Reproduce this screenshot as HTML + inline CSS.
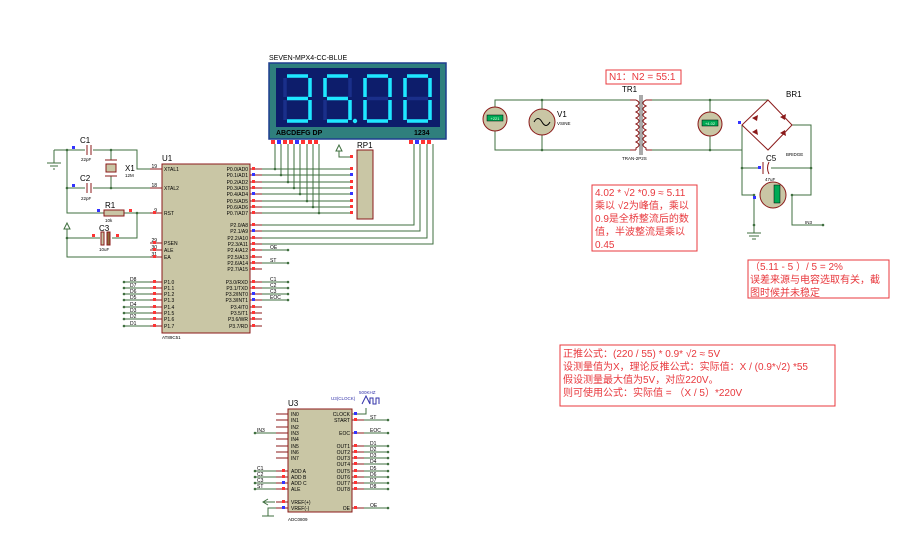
<!DOCTYPE html>
<html><head><meta charset="utf-8"><style>
body{margin:0;background:#fff;width:910px;height:534px;overflow:hidden}
svg{display:block}
text{font-family:"Liberation Sans","Noto Sans CJK SC",sans-serif}
.w{stroke:#3f6f3f;stroke-width:1;fill:none}
.p{stroke:#8b1a1a;stroke-width:1}
.s{font-size:5px;fill:#000}
.lb{font-size:8px;fill:#000}
.r{font-size:10px;fill:#e8383d}
.bx{fill:#fff;stroke:#e8383d;stroke-width:1}
.seg{stroke:#1ee8ff;stroke-width:3.5;fill:none;stroke-linecap:butt}
.off{stroke:#1a2f8a;stroke-width:3.5;fill:none}
</style></head><body>
<svg width="910" height="534" viewBox="0 0 910 534">
<!-- DISPLAY -->
<text x="269" y="60" font-size="7" fill="#000">SEVEN-MPX4-CC-BLUE</text>
<rect x="269" y="63" width="177" height="76" fill="#2f7f7d" stroke="#1f3f8f" stroke-width="1.5"/>
<rect x="276" y="68" width="164" height="59" fill="#0d1d6b"/>
<g class="off">
<path d="M287 76H308M285 78V97M310 78V97M287 98.5H308M285 100V120M310 100V120M287 121H308"/>
<path d="M327 76H348M325 78V97M350 78V97M327 98.5H348M325 100V120M350 100V120M327 121H348"/>
<path d="M367 76H388M365 78V97M390 78V97M367 98.5H388M365 100V120M390 100V120M367 121H388"/>
<path d="M407 76H428M405 78V97M430 78V97M407 98.5H428M405 100V120M430 100V120M407 121H428"/>
</g>
<g class="seg">
<path d="M287 76H308M310 78V97M287 98.5H308M310 100V120M287 121H308"/>
<path d="M327 76H348M325 78V97M327 98.5H348M350 100V120M327 121H348"/>
<path d="M367 76H388M365 78V97M390 78V97M365 100V120M390 100V120M367 121H388"/>
<path d="M407 76H428M405 78V97M430 78V97M405 100V120M430 100V120M407 121H428"/>
</g>
<circle cx="355" cy="121" r="2.2" fill="#1ee8ff"/>
<text x="276" y="135" font-size="7" font-weight="bold" fill="#000">ABCDEFG DP</text>
<text x="414" y="135" font-size="7" font-weight="bold" fill="#000">1234</text>
<g fill="#f33">
<rect x="271" y="140" width="4" height="4"/><rect x="277" y="140" width="4" height="4" fill="#33f"/><rect x="283" y="140" width="4" height="4"/><rect x="289" y="140" width="4" height="4"/><rect x="295" y="140" width="4" height="4" fill="#33f"/><rect x="301" y="140" width="4" height="4"/><rect x="308" y="140" width="4" height="4"/><rect x="314" y="140" width="4" height="4"/>
<rect x="409" y="140" width="4" height="4"/><rect x="415" y="140" width="4" height="4" fill="#33f"/><rect x="421" y="140" width="4" height="4"/><rect x="427" y="140" width="4" height="4"/>
</g>
<!-- vertical display wires -->
<g class="w">
<path d="M275 144V169M281 144V175M288 144V182M294 144V188M300 144V194M307 144V201M313 144V207M319 144V213"/>
<path d="M414 144V225H262M420 144V231H262M427 144V238H262M433 144V244H262"/>
<path d="M262 169H351M262 175H351M262 182H351M262 188H351M262 194H351M262 201H351M262 207H351M262 213H351"/>
<path d="M339 151V157H351"/>
<path d="M262 250H288M262 263H288M262 282H288M262 288H288M262 294H288M262 300H288"/>
</g>
<path d="M336 151L339 145L342 151Z" fill="none" stroke="#3f6f3f"/>
<g fill="#3f6f3f"><circle cx="275" cy="169" r="1.3"/><circle cx="281" cy="175" r="1.3"/><circle cx="288" cy="182" r="1.3"/><circle cx="294" cy="188" r="1.3"/><circle cx="300" cy="194" r="1.3"/><circle cx="307" cy="201" r="1.3"/><circle cx="313" cy="207" r="1.3"/><circle cx="319" cy="213" r="1.3"/>
<circle cx="288" cy="250" r="1.3"/><circle cx="288" cy="263" r="1.3"/><circle cx="288" cy="282" r="1.3"/><circle cx="288" cy="288" r="1.3"/><circle cx="288" cy="294" r="1.3"/><circle cx="288" cy="300" r="1.3"/></g>
<g class="s"><text x="270" y="249">OE</text><text x="270" y="262">ST</text><text x="270" y="281">C1</text><text x="270" y="287">C2</text><text x="270" y="293">C3</text><text x="270" y="299">EOC</text></g>
<!-- RP1 -->
<text x="357" y="148" class="lb">RP1</text>
<rect x="357" y="150" width="16" height="69" fill="#c9c6a5" stroke="#8b1a1a"/>
<g fill="#f33"><rect x="350" y="155" width="3" height="3"/><rect x="350" y="167" width="3" height="3"/><rect x="350" y="173" width="3" height="3" fill="#33f"/><rect x="350" y="180" width="3" height="3"/><rect x="350" y="186" width="3" height="3"/><rect x="350" y="192" width="3" height="3" fill="#33f"/><rect x="350" y="199" width="3" height="3"/><rect x="350" y="205" width="3" height="3"/><rect x="350" y="211" width="3" height="3"/></g>
<!-- U1 -->
<text x="162" y="161" class="lb">U1</text>
<rect x="162" y="164" width="88" height="169" fill="#c9c6a5" stroke="#8b1a1a"/>
<text x="162" y="339" font-size="4.5">AT89C51</text>
<g class="p">
<path d="M150 169H162M150 188H162M150 213H162M150 243H162M150 250H162M150 257H162"/>
<path d="M150 282H162M150 288H162M150 294H162M150 300H162M150 307H162M150 313H162M150 319H162M150 326H162"/>
<path d="M250 169H262M250 175H262M250 182H262M250 188H262M250 194H262M250 201H262M250 207H262M250 213H262"/>
<path d="M250 225H262M250 231H262M250 238H262M250 244H262M250 250H262M250 257H262M250 263H262M250 269H262"/>
<path d="M250 282H262M250 288H262M250 294H262M250 300H262M250 307H262M250 313H262M250 319H262M250 326H262"/>
</g>
<g class="s">
<text x="164" y="171">XTAL1</text><text x="164" y="190">XTAL2</text><text x="164" y="215">RST</text><text x="164" y="245">PSEN</text><text x="164" y="252">ALE</text><text x="164" y="259">EA</text>
<text x="164" y="284">P1.0</text><text x="164" y="290">P1.1</text><text x="164" y="296">P1.2</text><text x="164" y="302">P1.3</text><text x="164" y="309">P1.4</text><text x="164" y="315">P1.5</text><text x="164" y="321">P1.6</text><text x="164" y="328">P1.7</text>
<g text-anchor="end">
<text x="248" y="171">P0.0/AD0</text><text x="248" y="177">P0.1/AD1</text><text x="248" y="184">P0.2/AD2</text><text x="248" y="190">P0.3/AD3</text><text x="248" y="196">P0.4/AD4</text><text x="248" y="203">P0.5/AD5</text><text x="248" y="209">P0.6/AD6</text><text x="248" y="215">P0.7/AD7</text>
<text x="248" y="227">P2.0/A8</text><text x="248" y="233">P2.1/A9</text><text x="248" y="240">P2.2/A10</text><text x="248" y="246">P2.3/A11</text><text x="248" y="252">P2.4/A12</text><text x="248" y="259">P2.5/A13</text><text x="248" y="265">P2.6/A14</text><text x="248" y="271">P2.7/A15</text>
<text x="248" y="284">P3.0/RXD</text><text x="248" y="290">P3.1/TXD</text><text x="248" y="296">P3.2/INT0</text><text x="248" y="302">P3.3/INT1</text><text x="248" y="309">P3.4/T0</text><text x="248" y="315">P3.5/T1</text><text x="248" y="321">P3.6/WR</text><text x="248" y="328">P3.7/RD</text>
<text x="157" y="168">19</text><text x="157" y="187">18</text><text x="157" y="212">9</text><text x="157" y="242">29</text><text x="157" y="249">30</text><text x="157" y="256">31</text>
</g></g>
<g fill="#f33">
<rect x="252" y="167" width="3" height="3"/><rect x="252" y="173" width="3" height="3" fill="#33f"/><rect x="252" y="180" width="3" height="3"/><rect x="252" y="186" width="3" height="3"/><rect x="252" y="192" width="3" height="3" fill="#33f"/><rect x="252" y="199" width="3" height="3"/><rect x="252" y="205" width="3" height="3"/><rect x="252" y="211" width="3" height="3"/>
<rect x="252" y="223" width="3" height="3"/><rect x="252" y="229" width="3" height="3" fill="#33f"/><rect x="252" y="236" width="3" height="3"/><rect x="252" y="242" width="3" height="3"/><rect x="252" y="248" width="3" height="3"/><rect x="252" y="255" width="3" height="3"/><rect x="252" y="261" width="3" height="3"/><rect x="252" y="267" width="3" height="3"/>
<rect x="252" y="280" width="3" height="3"/><rect x="252" y="286" width="3" height="3"/><rect x="252" y="292" width="3" height="3" fill="#33f"/><rect x="252" y="298" width="3" height="3" fill="#33f"/><rect x="252" y="305" width="3" height="3"/><rect x="252" y="311" width="3" height="3"/><rect x="252" y="317" width="3" height="3"/><rect x="252" y="324" width="3" height="3"/>
<rect x="153" y="211" width="3" height="3"/><rect x="153" y="241" width="3" height="3"/><rect x="153" y="248" width="3" height="3"/><rect x="153" y="255" width="3" height="3"/>
<rect x="153" y="280" width="3" height="3"/><rect x="153" y="286" width="3" height="3"/><rect x="153" y="292" width="3" height="3"/><rect x="153" y="298" width="3" height="3"/><rect x="153" y="305" width="3" height="3"/><rect x="153" y="311" width="3" height="3"/><rect x="153" y="317" width="3" height="3"/><rect x="153" y="324" width="3" height="3"/>
</g>
<!-- P1 data lines -->
<g class="w"><path d="M124 282H150M124 288H150M124 294H150M124 300H150M124 307H150M124 313H150M124 319H150M124 326H150"/></g>
<g fill="#3f6f3f"><circle cx="124" cy="282" r="1.3"/><circle cx="124" cy="288" r="1.3"/><circle cx="124" cy="294" r="1.3"/><circle cx="124" cy="300" r="1.3"/><circle cx="124" cy="307" r="1.3"/><circle cx="124" cy="313" r="1.3"/><circle cx="124" cy="319" r="1.3"/><circle cx="124" cy="326" r="1.3"/></g>
<g class="s"><text x="130" y="281">D8</text><text x="130" y="287">D7</text><text x="130" y="293">D6</text><text x="130" y="299">D5</text><text x="130" y="306">D4</text><text x="130" y="312">D3</text><text x="130" y="318">D2</text><text x="130" y="325">D1</text></g>
<!-- oscillator/reset -->
<g class="w">
<path d="M54 150H85M93 150H137V169H150M67 150V213H104M67 188H85M93 188H150M111 150V160M111 176V188"/>
<path d="M54 150V163M124 213H150M137 213V238H112M67 229V257H150M67 238H100"/>
</g>
<path d="M47 163H61M50 166H58M53 169H55" stroke="#3f6f3f"/>
<path d="M64 229L67 223L70 229Z" fill="none" stroke="#3f6f3f"/>
<g class="p" fill="none"><path d="M87 145V155M91 145V155M87 183V193M91 183V193M105 160H117M105 176H117"/></g>
<rect x="106" y="164" width="10" height="8" fill="#c9c6a5" stroke="#8b1a1a"/>
<rect x="104" y="210" width="20" height="6" fill="#c9c6a5" stroke="#8b1a1a"/>
<rect x="101" y="232" width="3" height="13" fill="#c9c6a5" stroke="#8b1a1a"/><rect x="107" y="232" width="3" height="13" fill="#8b6a3a" stroke="#8b1a1a"/>
<g fill="#3f6f3f"><circle cx="67" cy="150" r="1.3"/><circle cx="111" cy="150" r="1.3"/><circle cx="67" cy="188" r="1.3"/><circle cx="111" cy="188" r="1.3"/><circle cx="137" cy="213" r="1.3"/><circle cx="67" cy="238" r="1.3"/></g>
<rect x="72" y="146" width="3" height="3" fill="#33f"/><rect x="72" y="184" width="3" height="3" fill="#33f"/><rect x="97" y="209" width="3" height="3" fill="#33f"/><rect x="129" y="209" width="3" height="3" fill="#f33"/><rect x="92" y="234" width="3" height="3" fill="#f33"/><rect x="116" y="234" width="3" height="3" fill="#f33"/>
<g class="lb"><text x="80" y="143">C1</text><text x="80" y="181">C2</text><text x="105" y="208">R1</text><text x="99" y="231">C3</text><text x="125" y="171">X1</text></g>
<g style="font-size:4.5px"><text x="81" y="161">22pF</text><text x="81" y="200">22pF</text><text x="105" y="222">10k</text><text x="99" y="251">10uF</text><text x="125" y="177">12M</text></g>
<!-- Transformer section -->
<g class="w">
<path d="M495 107V100H630M495 131V150H630M542 100V109M542 135V150"/>
<path d="M652 100H768M652 150H742V125M710 100V112M710 136V150"/>
<path d="M792 125H811V195H792M742 125V195H754M742 168H761M771 168H811M754 195V233M792 195V225H823"/>
</g>
<g fill="#3f6f3f"><circle cx="542" cy="100" r="1.3"/><circle cx="542" cy="150" r="1.3"/><circle cx="710" cy="100" r="1.3"/><circle cx="710" cy="150" r="1.3"/><circle cx="742" cy="168" r="1.3"/><circle cx="811" cy="168" r="1.3"/><circle cx="754" cy="195" r="1.3"/><circle cx="792" cy="195" r="1.3"/><circle cx="754" cy="225" r="1.3"/><circle cx="823" cy="225" r="1.3"/></g>
<path d="M747 233H761M749 236H759M752 239H756" stroke="#3f6f3f"/>
<circle cx="495" cy="119" r="12" fill="#c9c6a5" stroke="#8b1a1a"/><rect x="487" y="115" width="16" height="6" fill="#0a5" stroke="#000" stroke-width=".5"/><text x="495" y="120" font-size="4" fill="#dfd" text-anchor="middle">+221</text>
<circle cx="542" cy="122" r="13" fill="#c9c6a5" stroke="#8b1a1a"/><path d="M534 122q4 -7 8 0t8 0" fill="none" stroke="#000"/>
<text x="557" y="117" class="lb">V1</text><text x="557" y="125" style="font-size:4.5px">VSINE</text>
<circle cx="710" cy="124" r="12" fill="#c9c6a5" stroke="#8b1a1a"/><rect x="702" y="120" width="16" height="6" fill="#0a5" stroke="#000" stroke-width=".5"/><text x="710" y="125" font-size="4" fill="#dfd" text-anchor="middle">+4.02</text>
<g fill="none" stroke="#8b1a1a"><path d="M630 100h6M630 150h6M646 100h6M646 150h6"/>
<path d="M636 100q6 3 0 6q6 3 0 6q6 3 0 6q6 3 0 6q6 3 0 6q6 3 0 6q6 3 0 6q6 3 0 6v2"/>
<path d="M646 100q-6 3 0 6q-6 3 0 6q-6 3 0 6q-6 3 0 6q-6 3 0 6q-6 3 0 6q-6 3 0 6q-6 3 0 6v2"/>
<path d="M640 95V155M642 95V155" stroke="#555"/></g>
<text x="622" y="92" class="lb">TR1</text><text x="622" y="160" style="font-size:4.5px">TRAN-2P2S</text>
<path d="M768 100L792 125L768 150L742 125Z" fill="none" stroke="#8b1a1a"/>
<g fill="#8b1a1a"><path d="M752 118l6 -3l-1 6z"/><path d="M780 117l6 -3l-1 6z"/><path d="M752 132l6 3l-1 -6z"/><path d="M780 133l6 3l-1 -6z"/></g>
<text x="786" y="97" class="lb">BR1</text><text x="786" y="156" style="font-size:4.5px">BRIDGE</text>
<rect x="738" y="121" width="3" height="3" fill="#33f"/><rect x="758" y="166" width="3" height="3" fill="#33f"/><rect x="753" y="196" width="3" height="3" fill="#33f"/>
<path d="M763 162V174" stroke="#8b1a1a"/><path d="M769 162q-3 6 0 12" fill="none" stroke="#8b1a1a"/>
<text x="766" y="161" class="lb">C5</text><text x="765" y="181" style="font-size:4.5px">47uF</text>
<circle cx="773" cy="195" r="13" fill="#c9c6a5" stroke="#8b1a1a"/><rect x="774" y="185" width="6" height="18" fill="#0a5" stroke="#000" stroke-width=".5"/>
<text x="805" y="224" style="font-size:4.5px">IN3</text>
<!-- annotations -->
<rect x="606" y="70" width="75" height="14" class="bx"/><text x="609" y="80" class="r">N1：N2 = 55:1</text>
<rect x="592" y="185" width="105" height="66" class="bx"/>
<g class="r"><text x="595" y="196">4.02 * √2 *0.9 ≈ 5.11</text><text x="595" y="209">乘以 √2为峰值，乘以</text><text x="595" y="222">0.9是全桥整流后的数</text><text x="595" y="235">值，半波整流是乘以</text><text x="595" y="248">0.45</text></g>
<rect x="748" y="260" width="141" height="38" class="bx"/>
<g class="r"><text x="750" y="270">（5.11 - 5 ）/ 5 =  2%</text><text x="750" y="283">误差来源与电容选取有关，截</text><text x="750" y="296">图时候并未稳定</text></g>
<rect x="560" y="345" width="275" height="61" class="bx"/>
<g class="r"><text x="563" y="357">正推公式：(220 / 55) * 0.9* √2 ≈ 5V</text><text x="563" y="370">设测量值为X，理论反推公式：实际值：X / (0.9*√2) *55</text><text x="563" y="383">假设测量最大值为5V，对应220V。</text><text x="563" y="396">则可使用公式：实际值 = （X / 5）*220V</text></g>
<!-- U3 -->
<text x="288" y="406" class="lb">U3</text>
<rect x="288" y="409" width="64" height="103" fill="#c9c6a5" stroke="#8b1a1a"/>
<text x="288" y="521" font-size="4.5">ADC0809</text>
<g class="p"><path d="M276 414H288M276 420H288M276 427H288M276 433H288M276 439H288M276 446H288M276 452H288M276 458H288M276 471H288M276 477H288M276 483H288M276 489H288M276 502H288M276 508H288"/><path d="M352 414H364M352 420H364M352 433H364M352 446H364M352 452H364M352 458H364M352 464H364M352 471H364M352 477H364M352 483H364M352 489H364M352 508H364"/></g>
<g class="w"><path d="M255 433H276M255 471H276M255 477H276M255 483H276M255 489H276M276 508H268V516M364 420H388M364 433H388M364 446H388M364 452H388M364 458H388M364 464H388M364 471H388M364 477H388M364 483H388M364 489H388M364 508H388M352 414H366L366 408"/></g>
<path d="M262 516H274" stroke="#3f6f3f"/>
<path d="M275 502L263 502M268 499L263 502L268 505" fill="none" stroke="#3f6f3f"/>
<path d="M362 404l4 -8l4 8M370 404v-6h3v6h3v-6h3v6" fill="none" stroke="#33a"/>
<text x="359" y="394" style="font-size:4.5px;fill:#33a">500KHZ</text><text x="331" y="400" style="font-size:4.5px;fill:#33a">U3(CLOCK)</text>
<g fill="#3f6f3f"><circle cx="255" cy="433" r="1.3"/><circle cx="255" cy="471" r="1.3"/><circle cx="255" cy="477" r="1.3"/><circle cx="255" cy="483" r="1.3"/><circle cx="255" cy="489" r="1.3"/><circle cx="388" cy="420" r="1.3"/><circle cx="388" cy="433" r="1.3"/><circle cx="388" cy="446" r="1.3"/><circle cx="388" cy="452" r="1.3"/><circle cx="388" cy="458" r="1.3"/><circle cx="388" cy="464" r="1.3"/><circle cx="388" cy="471" r="1.3"/><circle cx="388" cy="477" r="1.3"/><circle cx="388" cy="483" r="1.3"/><circle cx="388" cy="489" r="1.3"/><circle cx="388" cy="508" r="1.3"/></g>
<g class="s">
<text x="291" y="416">IN0</text><text x="291" y="422">IN1</text><text x="291" y="429">IN2</text><text x="291" y="435">IN3</text><text x="291" y="441">IN4</text><text x="291" y="448">IN5</text><text x="291" y="454">IN6</text><text x="291" y="460">IN7</text>
<text x="291" y="473">ADD A</text><text x="291" y="479">ADD B</text><text x="291" y="485">ADD C</text><text x="291" y="491">ALE</text><text x="291" y="504">VREF(+)</text><text x="291" y="510">VREF(-)</text>
<g text-anchor="end"><text x="350" y="416">CLOCK</text><text x="350" y="422">START</text><text x="350" y="435">EOC</text><text x="350" y="448">OUT1</text><text x="350" y="454">OUT2</text><text x="350" y="460">OUT3</text><text x="350" y="466">OUT4</text><text x="350" y="473">OUT5</text><text x="350" y="479">OUT6</text><text x="350" y="485">OUT7</text><text x="350" y="491">OUT8</text><text x="350" y="510">OE</text></g>
<text x="257" y="432">IN3</text><text x="257" y="470">C1</text><text x="257" y="476">C2</text><text x="257" y="482">C3</text><text x="257" y="488">ST</text>
<text x="370" y="419">ST</text><text x="370" y="432">EOC</text><text x="370" y="445">D1</text><text x="370" y="451">D2</text><text x="370" y="457">D3</text><text x="370" y="463">D4</text><text x="370" y="470">D5</text><text x="370" y="476">D6</text><text x="370" y="482">D7</text><text x="370" y="488">D8</text><text x="370" y="507">OE</text>
</g>
<g fill="#f33"><rect x="354" y="412" width="3" height="3" fill="#33f"/><rect x="354" y="418" width="3" height="3"/><rect x="354" y="431" width="3" height="3" fill="#33f"/><rect x="354" y="444" width="3" height="3"/><rect x="354" y="450" width="3" height="3"/><rect x="354" y="456" width="3" height="3"/><rect x="354" y="462" width="3" height="3"/><rect x="354" y="469" width="3" height="3"/><rect x="354" y="475" width="3" height="3"/><rect x="354" y="481" width="3" height="3"/><rect x="354" y="487" width="3" height="3"/><rect x="354" y="506" width="3" height="3"/>
<rect x="282" y="469" width="3" height="3"/><rect x="282" y="475" width="3" height="3"/><rect x="282" y="481" width="3" height="3" fill="#33f"/><rect x="282" y="487" width="3" height="3"/><rect x="282" y="500" width="3" height="3"/><rect x="282" y="506" width="3" height="3" fill="#33f"/></g>
</svg>
</body></html>
